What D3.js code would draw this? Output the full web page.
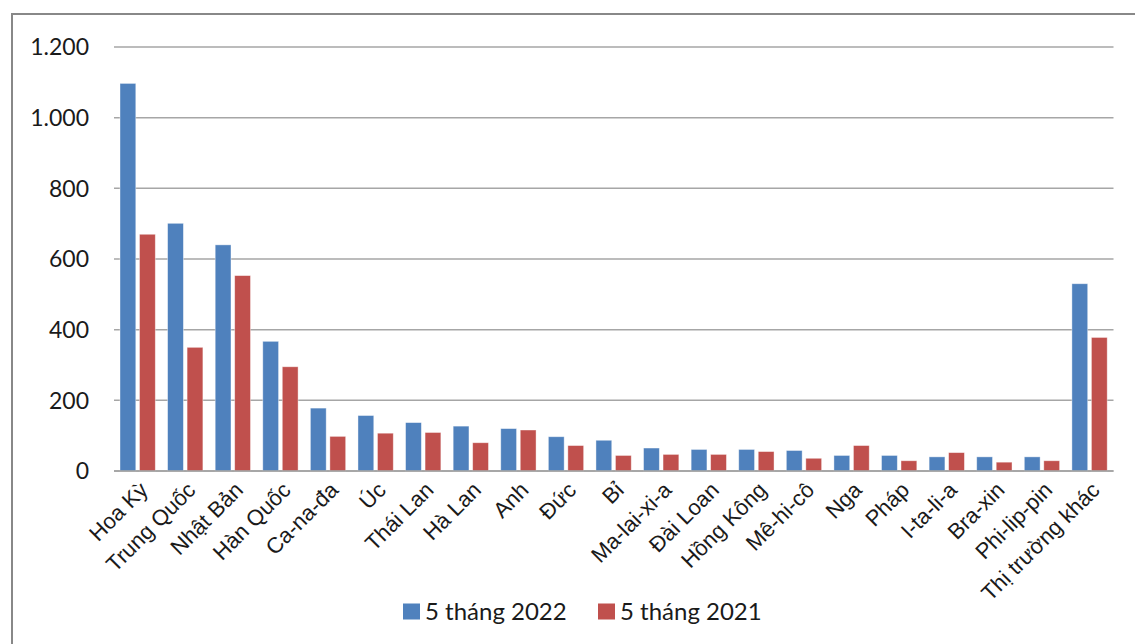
<!DOCTYPE html>
<html><head><meta charset="utf-8">
<script src="https://cdn.jsdelivr.net/npm/d3@7"></script>
<style>body{margin:0;background:#fff}svg{display:block}</style>
</head><body>
<svg id="c" width="1135" height="644"></svg>
<script>
const categories = ["Hoa Kỳ","Trung Quốc","Nhật Bản","Hàn Quốc","Ca-na-đa","Úc","Thái Lan","Hà Lan","Anh","Đức","Bỉ","Ma-lai-xi-a","Đài Loan","Hồng Kông","Mê-hi-cô","Nga","Pháp","I-ta-li-a","Bra-xin","Phi-lip-pin","Thị trường khác"];
const values2022 = [1097,701,640,367,178,157,137,127,120,97,87,65,61,61,58,44,44,40,40,40,530];
const values2021 = [670,350,553,295,98,107,109,80,116,72,44,47,47,55,36,72,29,52,25,29,378];
const seriesNames = ["5 tháng 2022","5 tháng 2021"];
const seriesColors = ["#4f81bd","#c0504d"];
const yTicks = [0,200,400,600,800,1000,1200];

const svg = d3.select("#c");
// outer border (left + top visible)
svg.append("rect").attr("x",12).attr("y",14).attr("width",1200).attr("height",700)
  .attr("fill","none").attr("stroke","#888").attr("stroke-width",2);

const x = d3.scaleBand().domain(categories).range([114,1113.5]);
const y = d3.scaleLinear().domain([0,1200]).range([471,47]);
const fmt = v => d3.format(",")(v).replace(/,/g,".");

// gridlines
svg.append("g").selectAll("line").data(yTicks).join("line")
  .attr("x1",114).attr("x2",1113.5)
  .attr("y1",d=>y(d)).attr("y2",d=>y(d))
  .attr("stroke","#a6a6a6").attr("stroke-width",1.5);

// y labels
svg.append("g").selectAll("text").data(yTicks).join("text")
  .attr("x",89).attr("y",d=>y(d)).attr("dy","0.36em")
  .attr("text-anchor","end")
  .attr("font-family","Lato, 'Open Sans', sans-serif").attr("font-size",23)
  .attr("fill","#1a1a1a").text(fmt);

// bars
const bw = x.bandwidth();
const offs = [6/47.6*bw, 25.5/47.6*bw];
const wbar = 15.8/47.6*bw;
[values2022, values2021].forEach((vals,si)=>{
  svg.append("g").selectAll("rect").data(categories).join("rect")
    .attr("x",(d)=>x(d)+offs[si])
    .attr("width",wbar)
    .attr("y",(d,i)=>y(vals[i]))
    .attr("height",(d,i)=>y(0)-y(vals[i]))
    .attr("fill",seriesColors[si])
    .attr("stroke","rgba(255,255,255,0.5)").attr("stroke-width",0.8);
});

// x axis line
svg.append("line").attr("x1",114).attr("x2",1113.5).attr("y1",y(0)).attr("y2",y(0))
  .attr("stroke","#a0a0a0").attr("stroke-width",1.5);

// category labels
svg.append("g").selectAll("text").data(categories).join("text")
  .attr("transform",d=>`translate(${x(d)+bw/2+6},${y(0)+15}) rotate(-45)`)
  .attr("text-anchor","end").attr("dy","0.35em")
  .attr("font-family","'Liberation Sans', Arial, sans-serif").attr("font-size",22)
  .attr("fill","#1a1a1a").text(d=>d);

// legend
const leg = svg.append("g");
const legX = [403, 598];
seriesNames.forEach((n,i)=>{
  leg.append("rect").attr("x",legX[i]).attr("y",603.5).attr("width",17).attr("height",16)
    .attr("fill",seriesColors[i]);
  leg.append("text").attr("x",legX[i]+22).attr("y",620)
    .attr("font-family","Lato, 'Open Sans', sans-serif").attr("font-size",24)
    .attr("fill","#1a1a1a").text(n);
});
</script>
</body></html>
